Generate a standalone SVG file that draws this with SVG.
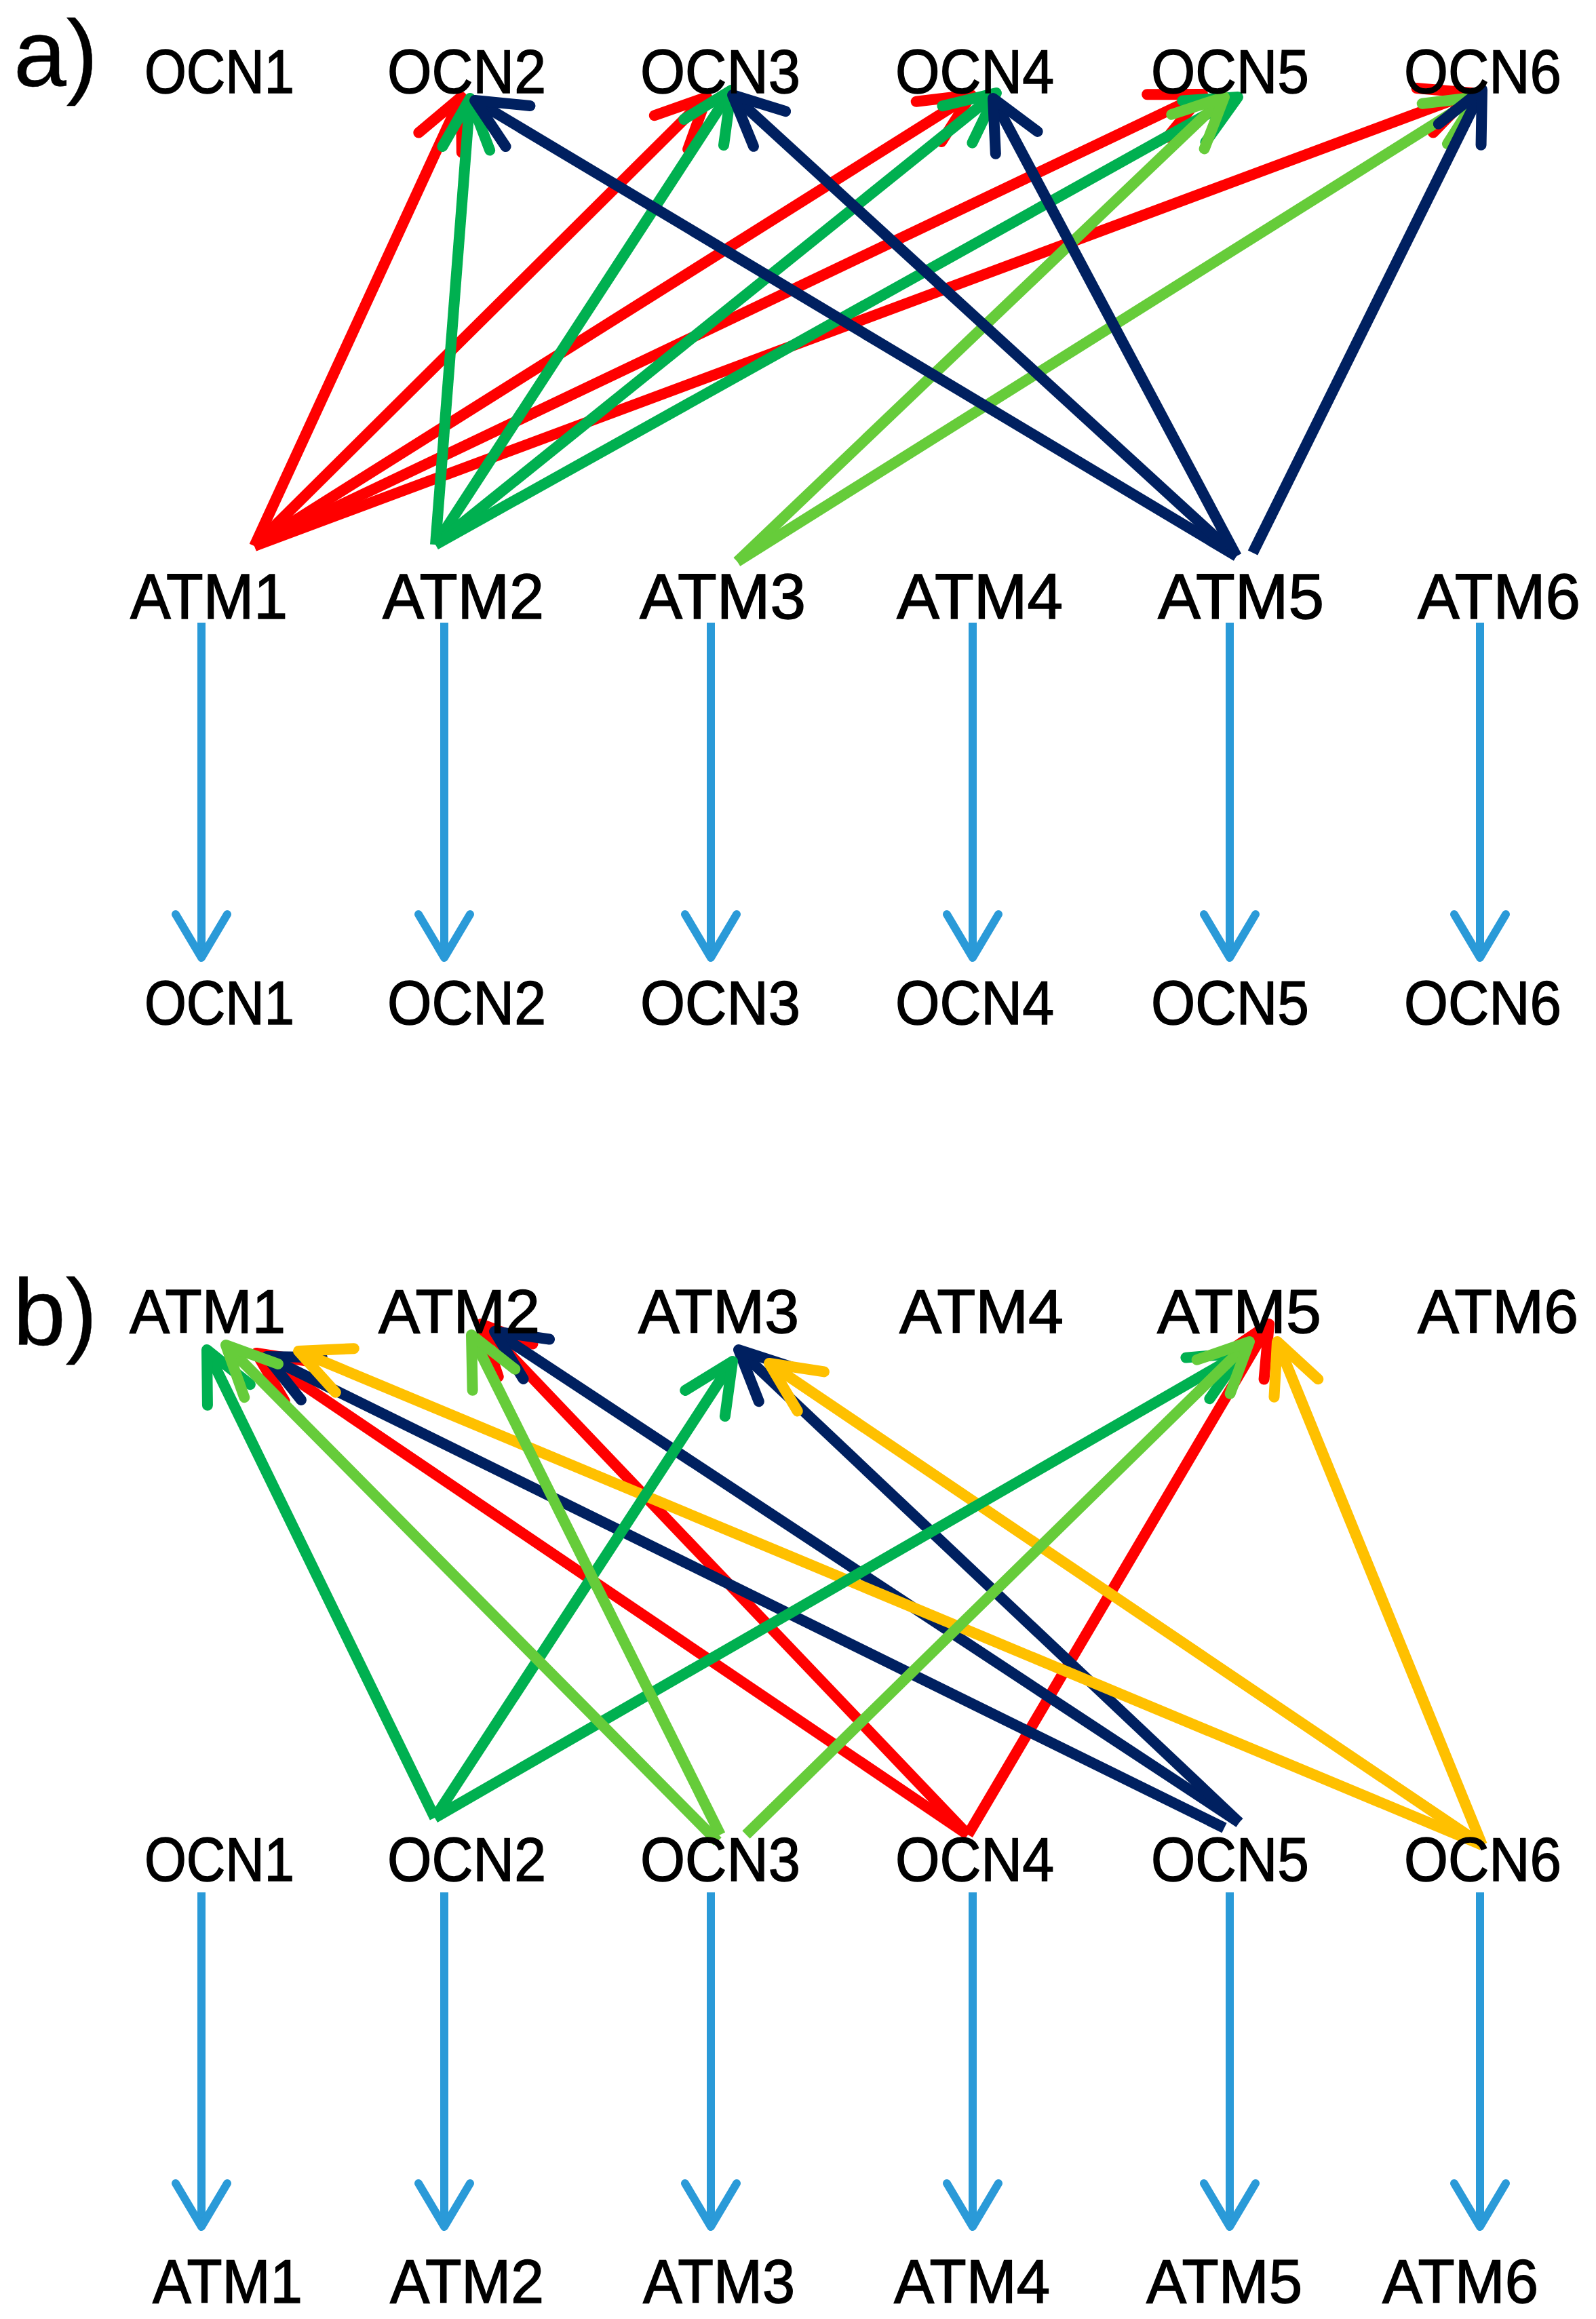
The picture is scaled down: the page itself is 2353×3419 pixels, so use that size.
<svg xmlns="http://www.w3.org/2000/svg" width="2353" height="3419" viewBox="0 0 2353 3419">
<style>
text{font-family:"Liberation Sans",Arial,sans-serif;fill:#000;stroke:#000;stroke-width:1.5}
.lbl{font-size:90px}
.atm{font-size:94px}
.pl{font-size:140px;stroke-width:0.5}
.c{fill:none;stroke-width:16}
.red{stroke:#FF0000}
.grn{stroke:#00B050}
.lgr{stroke:#66CC3A}
.nav{stroke:#002060}
.org{stroke:#FFC000}
.blu{stroke:#2A9AD8;stroke-width:12;fill:none}
</style>
<defs>
<marker id="mr" markerUnits="userSpaceOnUse" viewBox="-85 -45 95 90" markerWidth="95" markerHeight="90" refX="0" refY="0" orient="auto" overflow="visible"><path d="M-74,-35 L0,0 L-74,35" fill="none" stroke="#FF0000" stroke-width="16" stroke-linecap="round" stroke-linejoin="round"/></marker>
<marker id="mg" markerUnits="userSpaceOnUse" viewBox="-85 -45 95 90" markerWidth="95" markerHeight="90" refX="0" refY="0" orient="auto" overflow="visible"><path d="M-74,-35 L0,0 L-74,35" fill="none" stroke="#00B050" stroke-width="16" stroke-linecap="round" stroke-linejoin="round"/></marker>
<marker id="ml" markerUnits="userSpaceOnUse" viewBox="-85 -45 95 90" markerWidth="95" markerHeight="90" refX="0" refY="0" orient="auto" overflow="visible"><path d="M-74,-35 L0,0 L-74,35" fill="none" stroke="#66CC3A" stroke-width="16" stroke-linecap="round" stroke-linejoin="round"/></marker>
<marker id="mn" markerUnits="userSpaceOnUse" viewBox="-85 -45 95 90" markerWidth="95" markerHeight="90" refX="0" refY="0" orient="auto" overflow="visible"><path d="M-74,-35 L0,0 L-74,35" fill="none" stroke="#002060" stroke-width="16" stroke-linecap="round" stroke-linejoin="round"/></marker>
<marker id="mo" markerUnits="userSpaceOnUse" viewBox="-85 -45 95 90" markerWidth="95" markerHeight="90" refX="0" refY="0" orient="auto" overflow="visible"><path d="M-74,-35 L0,0 L-74,35" fill="none" stroke="#FFC000" stroke-width="16" stroke-linecap="round" stroke-linejoin="round"/></marker>
<marker id="mb" markerUnits="userSpaceOnUse" viewBox="-85 -45 95 90" markerWidth="95" markerHeight="90" refX="0" refY="0" orient="auto" overflow="visible"><path d="M-64,-38 L0,0 L-64,38" fill="none" stroke="#2A9AD8" stroke-width="12" stroke-linecap="round" stroke-linejoin="round"/></marker>
</defs>
<rect width="2353" height="3419" fill="#fff"/>

<g id="panel-labels">
<text class="pl" x="20" y="127">a)</text>
<text class="pl" x="19" y="1983">b)</text>
</g>

<g id="connectors">
<!-- panel a -->
<g class="c red" marker-end="url(#mr)">
<line x1="375" y1="805" x2="680" y2="143"/>
<line x1="375" y1="805" x2="1042" y2="143"/>
<line x1="375" y1="805" x2="1432" y2="140"/>
<line x1="375" y1="805" x2="1773" y2="139"/>
<line x1="375" y1="805" x2="2170" y2="137"/>
</g>
<g class="c grn" marker-end="url(#mg)">
<line x1="642" y1="803" x2="693" y2="145"/>
<line x1="642" y1="803" x2="1078" y2="133"/>
<line x1="642" y1="803" x2="1469" y2="137"/>
<line x1="642" y1="803" x2="1825" y2="143"/>
</g>
<g class="c lgr" marker-end="url(#ml)">
<line x1="1087" y1="828" x2="1805" y2="143"/>
<line x1="1087" y1="828" x2="2178" y2="143"/>
</g>
<g class="c nav" marker-end="url(#mn)">
<line x1="1823" y1="820" x2="700" y2="148"/>
<line x1="1823" y1="820" x2="1080" y2="140"/>
<line x1="1823" y1="820" x2="1464" y2="145"/>
<line x1="1847" y1="815" x2="2185" y2="132"/>
</g>
<g class="blu" marker-end="url(#mb)">
<line x1="297" y1="918" x2="297" y2="1412"/>
<line x1="655" y1="918" x2="655" y2="1412"/>
<line x1="1048" y1="918" x2="1048" y2="1412"/>
<line x1="1434" y1="918" x2="1434" y2="1412"/>
<line x1="1813" y1="918" x2="1813" y2="1412"/>
<line x1="2182" y1="918" x2="2182" y2="1412"/>
</g>
<!-- panel b -->
<g class="c red" marker-end="url(#mr)">
<line x1="1427" y1="2705" x2="378" y2="1995"/>
<line x1="1427" y1="2705" x2="709" y2="1952"/>
<line x1="1427" y1="2705" x2="1871" y2="1952"/>
</g>
<g class="c nav" marker-end="url(#mn)">
<line x1="1805" y1="2695" x2="393" y2="2000"/>
<line x1="1827" y1="2687" x2="729" y2="1963"/>
<line x1="1827" y1="2687" x2="1089" y2="1990"/>
</g>
<g class="c org" marker-end="url(#mo)">
<line x1="2185" y1="2720" x2="440" y2="1992"/>
<line x1="2185" y1="2720" x2="1134" y2="2010"/>
<line x1="2185" y1="2720" x2="1883" y2="1978"/>
</g>
<g class="c grn" marker-end="url(#mg)">
<line x1="641" y1="2680" x2="305" y2="1990"/>
<line x1="641" y1="2680" x2="1080" y2="2007"/>
<line x1="641" y1="2680" x2="1830" y2="1995"/>
</g>
<g class="c lgr" marker-end="url(#ml)">
<line x1="1058" y1="2715" x2="333" y2="1983"/>
<line x1="1062" y1="2705" x2="695" y2="1968"/>
<line x1="1100" y1="2705" x2="1842" y2="1978"/>
</g>
<g class="blu" marker-end="url(#mb)">
<line x1="297" y1="2790" x2="297" y2="3283"/>
<line x1="655" y1="2790" x2="655" y2="3283"/>
<line x1="1048" y1="2790" x2="1048" y2="3283"/>
<line x1="1434" y1="2790" x2="1434" y2="3283"/>
<line x1="1813" y1="2790" x2="1813" y2="3283"/>
<line x1="2182" y1="2790" x2="2182" y2="3283"/>
</g>
</g>

<!-- panel a nodes -->
<g id="a-ocn-top">
<g id="a-top-OCN1"><text class="lbl" x="213" y="137" textLength="221" lengthAdjust="spacingAndGlyphs">OCN1</text></g>
<g id="a-top-OCN2"><text class="lbl" x="571" y="137" textLength="234" lengthAdjust="spacingAndGlyphs">OCN2</text></g>
<g id="a-top-OCN3"><text class="lbl" x="944" y="137" textLength="236" lengthAdjust="spacingAndGlyphs">OCN3</text></g>
<g id="a-top-OCN4"><text class="lbl" x="1320" y="137" textLength="234" lengthAdjust="spacingAndGlyphs">OCN4</text></g>
<g id="a-top-OCN5"><text class="lbl" x="1697" y="137" textLength="233" lengthAdjust="spacingAndGlyphs">OCN5</text></g>
<g id="a-top-OCN6"><text class="lbl" x="2070" y="137" textLength="232" lengthAdjust="spacingAndGlyphs">OCN6</text></g>
</g>
<g id="a-atm">
<g id="a-ATM1"><text class="atm" x="192" y="912" textLength="232" lengthAdjust="spacingAndGlyphs">ATM1</text></g>
<g id="a-ATM2"><text class="atm" x="564" y="912" textLength="238" lengthAdjust="spacingAndGlyphs">ATM2</text></g>
<g id="a-ATM3"><text class="atm" x="943" y="912" textLength="245" lengthAdjust="spacingAndGlyphs">ATM3</text></g>
<g id="a-ATM4"><text class="atm" x="1322" y="912" textLength="245" lengthAdjust="spacingAndGlyphs">ATM4</text></g>
<g id="a-ATM5"><text class="atm" x="1707" y="912" textLength="245" lengthAdjust="spacingAndGlyphs">ATM5</text></g>
<g id="a-ATM6"><text class="atm" x="2090" y="912" textLength="240" lengthAdjust="spacingAndGlyphs">ATM6</text></g>
</g>
<g id="a-ocn-bottom">
<g id="a-bot-OCN1"><text class="lbl" x="213" y="1510" textLength="221" lengthAdjust="spacingAndGlyphs">OCN1</text></g>
<g id="a-bot-OCN2"><text class="lbl" x="571" y="1510" textLength="234" lengthAdjust="spacingAndGlyphs">OCN2</text></g>
<g id="a-bot-OCN3"><text class="lbl" x="944" y="1510" textLength="236" lengthAdjust="spacingAndGlyphs">OCN3</text></g>
<g id="a-bot-OCN4"><text class="lbl" x="1320" y="1510" textLength="234" lengthAdjust="spacingAndGlyphs">OCN4</text></g>
<g id="a-bot-OCN5"><text class="lbl" x="1697" y="1510" textLength="233" lengthAdjust="spacingAndGlyphs">OCN5</text></g>
<g id="a-bot-OCN6"><text class="lbl" x="2070" y="1510" textLength="232" lengthAdjust="spacingAndGlyphs">OCN6</text></g>
</g>

<!-- panel b nodes -->
<g id="b-atm-top">
<g id="b-top-ATM1"><text class="lbl" x="191" y="1965" textLength="230" lengthAdjust="spacingAndGlyphs">ATM1</text></g>
<g id="b-top-ATM2"><text class="lbl" x="558" y="1965" textLength="238" lengthAdjust="spacingAndGlyphs">ATM2</text></g>
<g id="b-top-ATM3"><text class="lbl" x="941" y="1965" textLength="237" lengthAdjust="spacingAndGlyphs">ATM3</text></g>
<g id="b-top-ATM4"><text class="lbl" x="1326" y="1965" textLength="242" lengthAdjust="spacingAndGlyphs">ATM4</text></g>
<g id="b-top-ATM5"><text class="lbl" x="1706" y="1965" textLength="242" lengthAdjust="spacingAndGlyphs">ATM5</text></g>
<g id="b-top-ATM6"><text class="lbl" x="2090" y="1965" textLength="237" lengthAdjust="spacingAndGlyphs">ATM6</text></g>
</g>
<g id="b-ocn">
<g id="b-OCN1"><text class="lbl" x="213" y="2773" textLength="221" lengthAdjust="spacingAndGlyphs">OCN1</text></g>
<g id="b-OCN2"><text class="lbl" x="571" y="2773" textLength="234" lengthAdjust="spacingAndGlyphs">OCN2</text></g>
<g id="b-OCN3"><text class="lbl" x="944" y="2773" textLength="236" lengthAdjust="spacingAndGlyphs">OCN3</text></g>
<g id="b-OCN4"><text class="lbl" x="1320" y="2773" textLength="234" lengthAdjust="spacingAndGlyphs">OCN4</text></g>
<g id="b-OCN5"><text class="lbl" x="1697" y="2773" textLength="233" lengthAdjust="spacingAndGlyphs">OCN5</text></g>
<g id="b-OCN6"><text class="lbl" x="2070" y="2773" textLength="232" lengthAdjust="spacingAndGlyphs">OCN6</text></g>
</g>
<g id="b-atm-bottom">
<g id="b-bot-ATM1"><text class="lbl" x="225" y="3395" textLength="221" lengthAdjust="spacingAndGlyphs">ATM1</text></g>
<g id="b-bot-ATM2"><text class="lbl" x="575" y="3395" textLength="227" lengthAdjust="spacingAndGlyphs">ATM2</text></g>
<g id="b-bot-ATM3"><text class="lbl" x="948" y="3395" textLength="224" lengthAdjust="spacingAndGlyphs">ATM3</text></g>
<g id="b-bot-ATM4"><text class="lbl" x="1318" y="3395" textLength="230" lengthAdjust="spacingAndGlyphs">ATM4</text></g>
<g id="b-bot-ATM5"><text class="lbl" x="1690" y="3395" textLength="230" lengthAdjust="spacingAndGlyphs">ATM5</text></g>
<g id="b-bot-ATM6"><text class="lbl" x="2038" y="3395" textLength="230" lengthAdjust="spacingAndGlyphs">ATM6</text></g>
</g>
</svg>
